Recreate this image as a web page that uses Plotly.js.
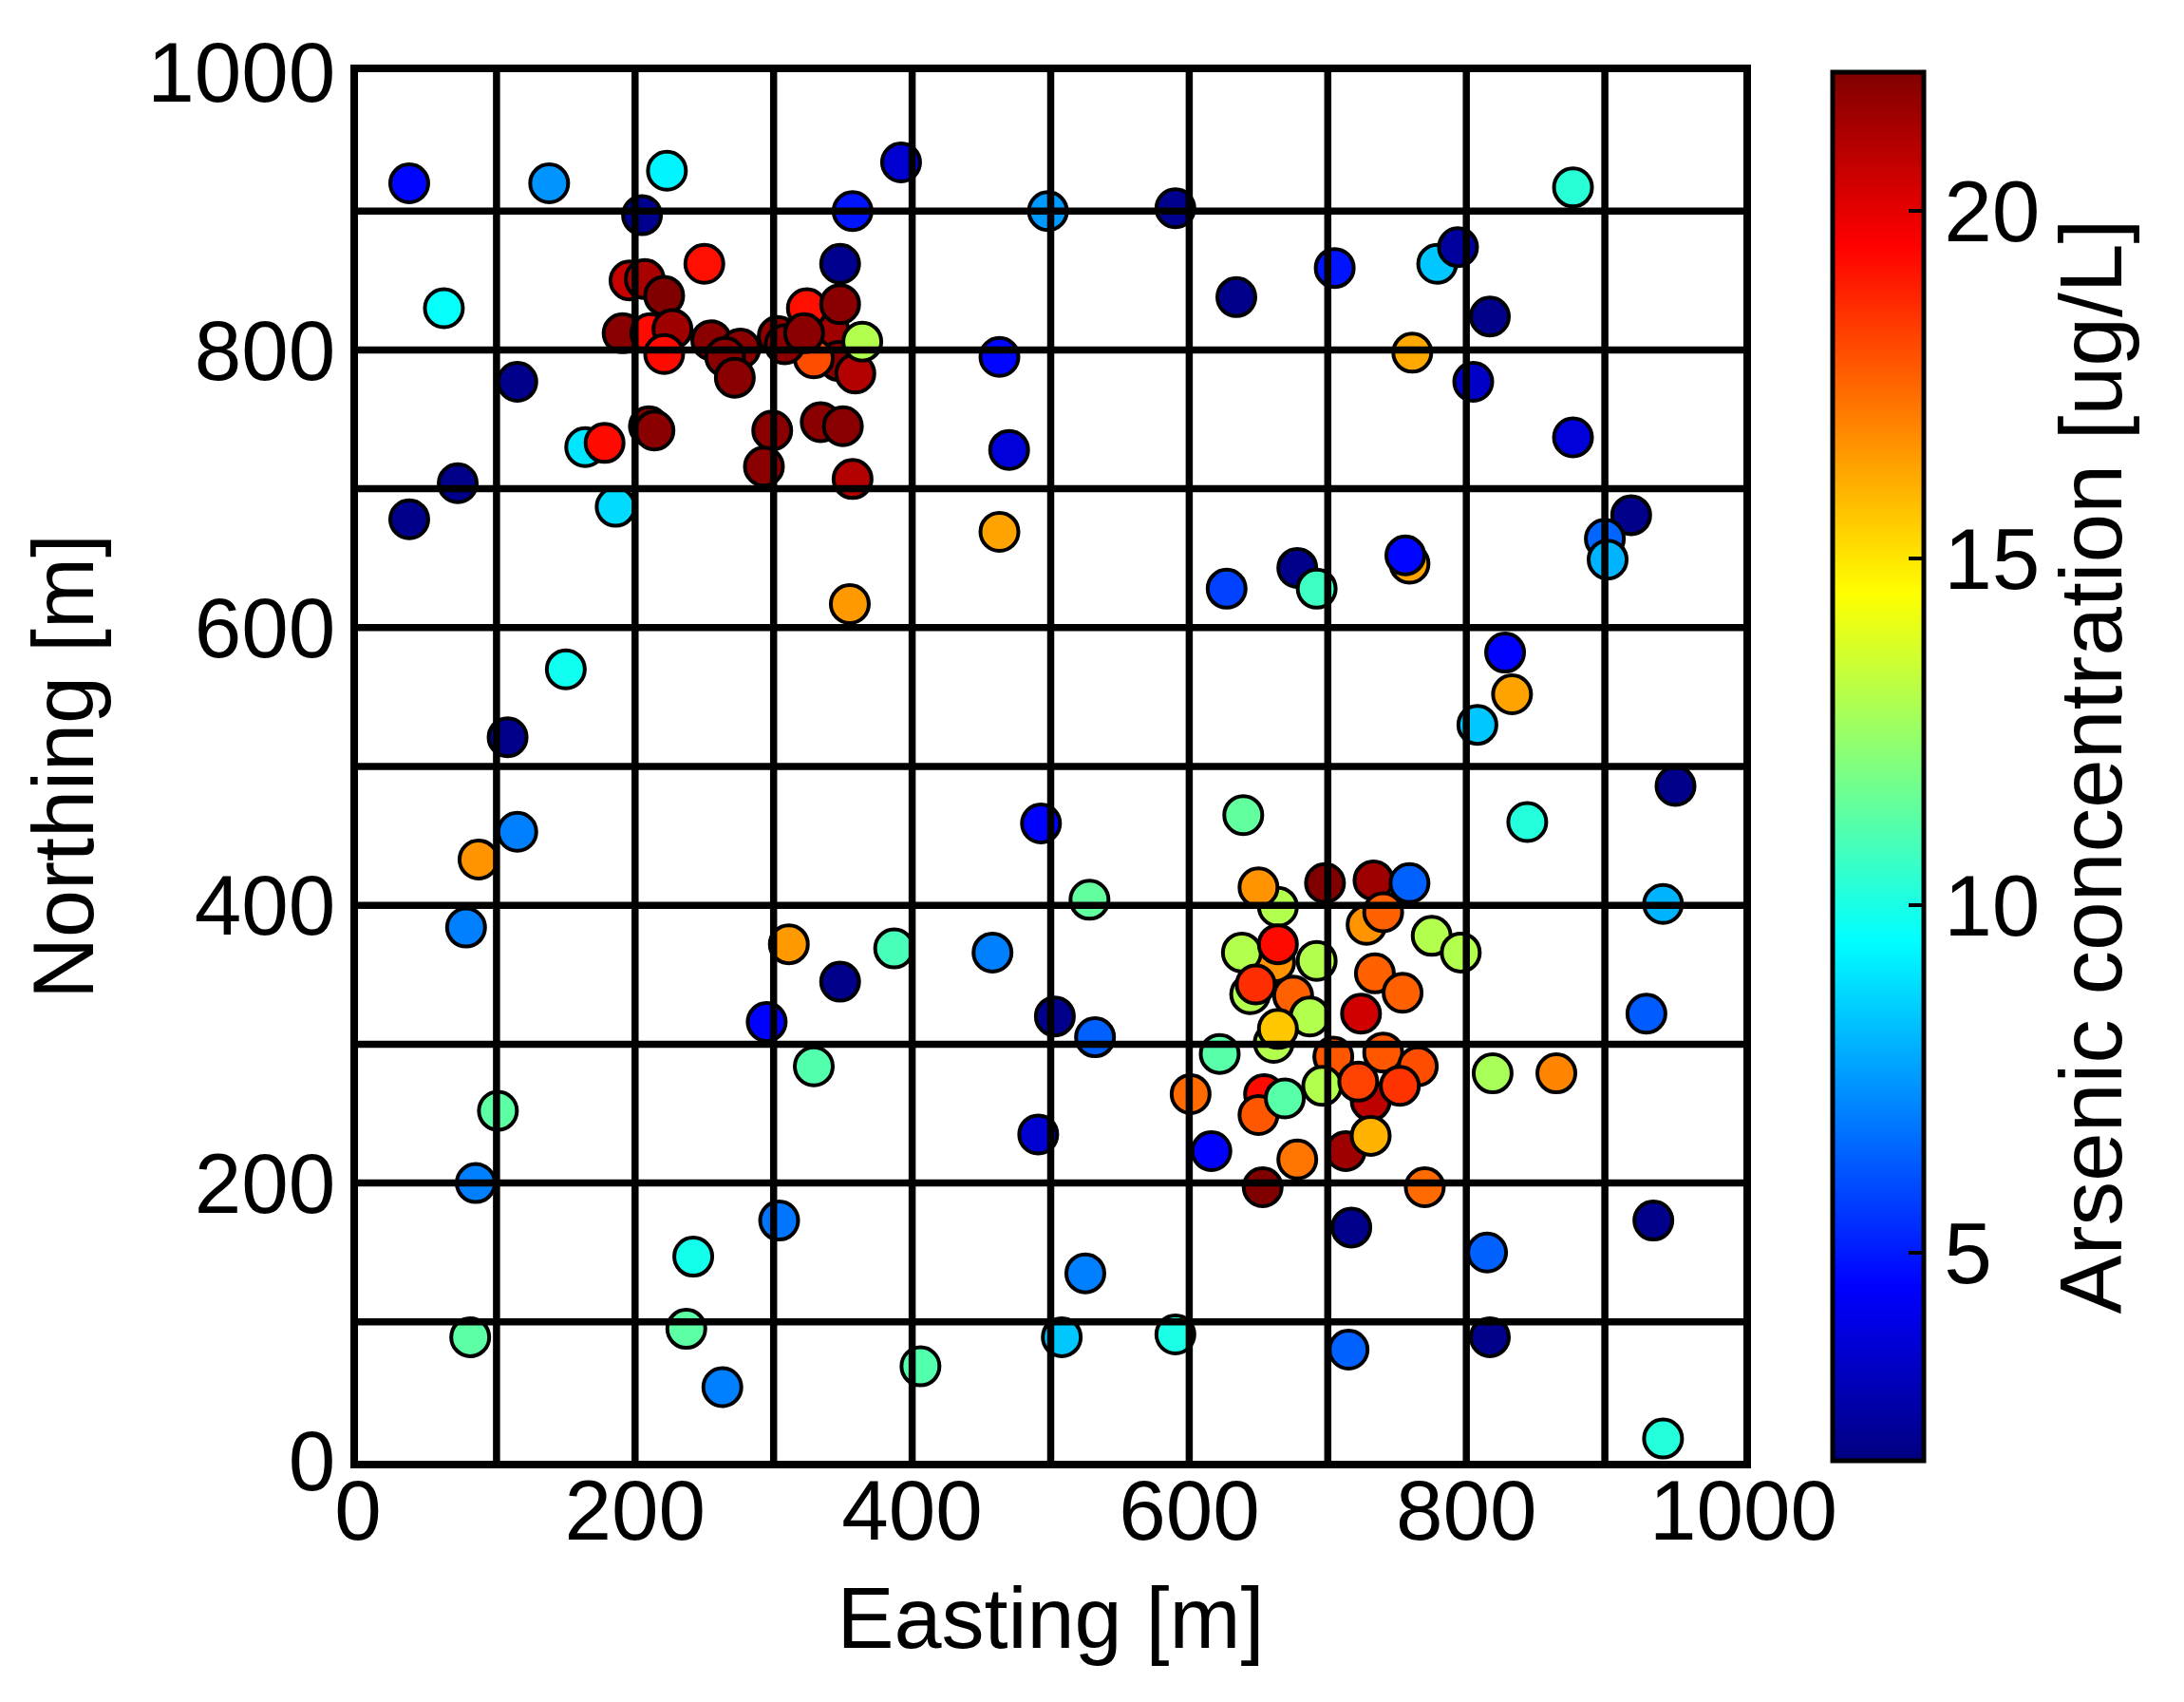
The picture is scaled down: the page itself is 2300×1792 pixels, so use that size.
<!DOCTYPE html>
<html>
<head>
<meta charset="utf-8">
<script src="https://cdn.plot.ly/plotly-3.0.1.min.js"></script>
<style>html,body{margin:0;padding:0;background:#fff;}#chart{width:2300px;height:1792px;}</style>
</head>
<body>
<div id="chart"></div>
<script>
// Sample locations (Easting, Northing in m) and arsenic concentration (ug/L)
const easting = [
  340, 347, 662, 644, 661, 731, 654, 759, 329, 664, 359,
  37, 138, 223, 205, 357, 392, 498, 250, 196, 207, 221, 348, 62, 324, 348,
  191, 211, 227, 221, 255, 276, 265, 272, 303, 308, 322, 364, 463, 115,
  164, 178, 210, 214, 299, 293, 334, 350, 357, 470, 72, 37, 186, 463, 355, 150, 108,
  590, 877, 634, 705, 779, 794, 817, 761, 805, 877, 919, 900, 902, 627, 678, 692, 756,
  828, 833, 808,
  115, 87, 493, 78, 311, 387, 458, 348, 295, 503, 329, 101, 491, 85, 304, 242, 81, 237,
  263, 406, 508,
  639, 844, 951, 528, 942, 698, 733, 759, 650, 728, 740, 775, 796, 638, 664, 692, 734,
  754, 648, 675, 724, 687, 532, 664, 622, 704, 740, 765, 819, 865, 601, 696, 722, 752,
  650, 669, 713, 731, 678, 616, 653, 770, 717, 935, 815, 525, 590, 715, 817, 942, 930
];
const northing = [
  815, 792, 359, 336, 301, 259, 264, 646, 794, 399, 783,
  920, 920, 929, 897, 900, 935, 900, 862, 850, 851, 839, 862, 830, 830, 833,
  812, 812, 815, 797, 807, 801, 795, 780, 810, 804, 812, 806, 795, 777,
  730, 733, 745, 742, 742, 716, 748, 745, 707, 728, 704, 678, 687, 669, 617, 570, 521,
  902, 917, 838, 859, 862, 874, 824, 798, 777, 737, 681, 664, 649, 628, 643, 628, 652,
  582, 552, 530,
  453, 433, 459, 384, 372, 369, 366, 345, 316, 320, 284, 252, 235, 200, 173, 147, 89, 95,
  53, 68, 89,
  465, 460, 486, 404, 401, 416, 418, 416, 413, 386, 395, 378, 366, 366, 372, 360, 351,
  337, 343, 335, 322, 320, 305, 311, 293, 291, 294, 284, 279, 279, 264, 270, 273, 270,
  249, 261, 223, 234, 217, 223, 197, 197, 168, 173, 150, 135, 91, 80, 89, 16, 322
];
const arsenic = [
  21.4, 21.8, 16.6, 13.0, 13.0, 20.8, 19.3, 16.3, 18.0, 13.0, 21.0,
  4.6, 7.4, 9.3, 2.3, 4.9, 3.6, 7.5, 19.2, 20.6, 21.2, 22.0, 2.3, 9.6, 19.2, 21.8,
  21.8, 19.3, 21.4, 19.3, 21.8, 21.8, 21.8, 21.8, 21.8, 21.8, 21.8, 13.0, 4.6, 2.2,
  9.0, 19.3, 21.8, 21.8, 21.8, 21.8, 21.8, 21.8, 21.0, 3.8, 2.2, 2.2, 8.8, 16.3, 16.5, 9.8, 2.2,
  2.3, 10.3, 2.2, 4.9, 8.4, 2.6, 2.2, 16.2, 3.4, 3.8, 2.2, 6.5, 8.0, 5.8, 2.2, 10.7, 4.6,
  4.5, 16.3, 8.4,
  7.0, 16.6, 4.5, 7.0, 16.5, 10.9, 7.0, 2.2, 4.5, 2.2, 11.1, 11.3, 3.6, 7.0, 6.8, 9.9, 11.3, 11.3,
  7.0, 11.1, 8.4,
  11.4, 10.2, 2.2, 11.4, 8.0, 22.0, 21.4, 6.4, 16.6, 16.6, 17.6, 13.0, 13.0, 13.0, 19.3, 13.0, 17.6,
  17.6, 18.6, 17.6, 20.4, 13.0, 6.4, 15.6, 11.2, 17.8, 17.8, 18.0, 12.8, 16.9, 17.4, 13.0, 18.2, 18.5,
  17.8, 11.2, 21.4, 16.0, 17.2, 4.5, 22.0, 17.4, 2.2, 2.2, 6.4, 7.0, 10.0, 6.4, 2.2, 10.2, 6.3
];
const axisTicks = [0, 200, 400, 600, 800, 1000];
const axisTickText = ['0', '200', '400', '600', '800', '1000'];
const gridVals = [100, 200, 300, 400, 500, 600, 700, 800, 900];
const cbarTicks = [5, 10, 15, 20];
const cbarTickText = ['5', '10', '15', '20'];
const cRange = [2, 22];

const FONT = 'Liberation Sans, Arial, Helvetica, sans-serif';

const jet = [
  [0, 'rgb(0,0,128)'],
  [0.125, 'rgb(0,0,255)'],
  [0.375, 'rgb(0,255,255)'],
  [0.625, 'rgb(255,255,0)'],
  [0.875, 'rgb(255,0,0)'],
  [1, 'rgb(128,0,0)']
];

const trace = {
  type: 'scatter',
  mode: 'markers',
  x: easting,
  y: northing,
  marker: {
    size: 40,
    color: arsenic,
    colorscale: jet,
    cmin: cRange[0],
    cmax: cRange[1],
    line: {color: 'black', width: 4},
    opacity: 1,
    colorbar: {
      x: 1.0644, xanchor: 'left', xpad: 0,
      y: 0.5, yanchor: 'middle', ypad: 0,
      len: 1, lenmode: 'fraction',
      thickness: 96, thicknessmode: 'pixels',
      outlinewidth: 5, outlinecolor: 'black',
      tickmode: 'array', tickvals: cbarTicks, ticktext: cbarTickText,
      ticks: 'inside', ticklen: 18, tickwidth: 4, tickcolor: 'black',
      tickfont: {family: FONT, size: 91, color: 'black'},
      title: {text: 'Arsenic concentration [ug/L]', side: 'right',
              font: {family: FONT, size: 93, color: 'black'}}
    }
  },
  hoverinfo: 'x+y',
  showlegend: false
};

const shapes = [];
gridVals.forEach(v => {
  shapes.push({type: 'line', xref: 'x', yref: 'y', x0: v, x1: v, y0: 0, y1: 1000,
               line: {color: 'black', width: 7.5}, layer: 'above'});
  shapes.push({type: 'line', xref: 'x', yref: 'y', x0: 0, x1: 1000, y0: v, y1: v,
               line: {color: 'black', width: 7.5}, layer: 'above'});
});

const axisCommon = {
  range: [0, 1000],
  tickmode: 'array',
  tickvals: axisTicks,
  ticktext: axisTickText,
  showgrid: false,
  zeroline: false,
  showline: true,
  mirror: true,
  linecolor: 'black',
  linewidth: 8,
  ticks: '',
  layer: 'above traces',
  tickfont: {family: FONT, size: 89, color: 'black'},
  fixedrange: true
};

const layout = {
  width: 2300,
  height: 1792,
  margin: {l: 377, r: 464, t: 76, b: 254, pad: 0},
  paper_bgcolor: 'white',
  plot_bgcolor: 'white',
  font: {family: FONT, color: 'black'},
  xaxis: Object.assign({}, axisCommon, {
    ticklabelstandoff: -32,
    title: {text: 'Easting [m]', font: {family: FONT, size: 90, color: 'black'}, standoff: 36}
  }),
  yaxis: Object.assign({}, axisCommon, {
    ticklabelstandoff: -2,
    title: {text: 'Northing [m]', font: {family: FONT, size: 90, color: 'black'}, standoff: 30}
  }),
  shapes: shapes,
  showlegend: false
};

Plotly.newPlot('chart', [trace], layout, {displayModeBar: false, staticPlot: true});
</script>
</body>
</html>
